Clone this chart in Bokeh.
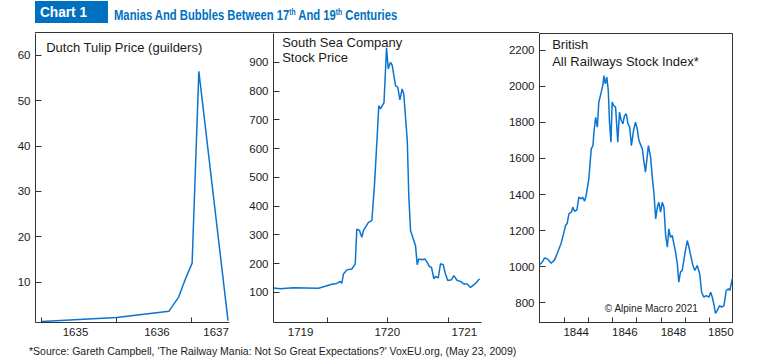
from bokeh.plotting import figure
from bokeh.models import FixedTicker, Label, Range1d, Div
from bokeh.layouts import column, row
from bokeh.embed import file_html
from bokeh.resources import INLINE

# ---------------- data ----------------
tulip_year = [1635.0, 1636.0, 1636.70, 1636.83, 1636.92, 1637.01, 1637.10, 1637.49]
tulip_price = [1.3, 2.2, 3.6, 6.7, 10.7, 14.2, 56.5, 1.5]

ssea_year = [1719.557, 1719.613, 1719.722, 1719.928, 1719.997, 1720.038, 1720.079, 1720.107,
             1720.120, 1720.134, 1720.162, 1720.203, 1720.231, 1720.244, 1720.266, 1720.285,
             1720.299, 1720.340, 1720.368, 1720.390, 1720.410, 1720.425, 1720.439, 1720.468,
             1720.489, 1720.503, 1720.522, 1720.536, 1720.563, 1720.582, 1720.599, 1720.618,
             1720.631, 1720.660, 1720.673, 1720.687, 1720.728, 1720.742, 1720.755, 1720.783,
             1720.805, 1720.824, 1720.843, 1720.860, 1720.879, 1720.893, 1720.915, 1720.934,
             1720.956, 1720.975, 1720.994, 1721.025, 1721.044, 1721.072, 1721.099, 1721.126,
             1721.154, 1721.181, 1721.223, 1721.256]
ssea_price = [115, 112, 116, 114, 123, 128, 131, 138,
              131, 164, 178, 181, 199, 320, 315, 291,
              315, 343, 349, 477, 628, 749, 738, 760,
              950, 877, 900, 889, 819, 813, 769, 807,
              790, 628, 430, 315, 262, 196, 216, 213,
              216, 204, 189, 187, 147, 155, 150, 199,
              196, 164, 141, 144, 158, 141, 138, 129,
              129, 117, 131, 147]

rail_year = [1843.00, 1843.10, 1843.20, 1843.33, 1843.47, 1843.61, 1843.74, 1843.88, 1843.98, 1844.06,
             1844.13, 1844.20, 1844.30, 1844.36, 1844.43, 1844.53, 1844.61, 1844.71, 1844.77, 1844.84,
             1844.91, 1845.02, 1845.08, 1845.12, 1845.19, 1845.23, 1845.30, 1845.37, 1845.43, 1845.53,
             1845.60, 1845.64, 1845.70, 1845.76, 1845.82, 1845.87, 1845.93, 1845.98, 1846.04, 1846.12,
             1846.21, 1846.28, 1846.35, 1846.42, 1846.49, 1846.56, 1846.63, 1846.70, 1846.77, 1846.86,
             1846.94, 1847.01, 1847.08, 1847.22, 1847.28, 1847.35, 1847.47, 1847.56, 1847.63, 1847.70,
             1847.77, 1847.84, 1847.90, 1847.97, 1848.04, 1848.11, 1848.18, 1848.25, 1848.31, 1848.38,
             1848.45, 1848.52, 1848.59, 1848.66, 1848.72, 1848.79, 1848.86, 1848.97, 1849.07, 1849.14,
             1849.21, 1849.30, 1849.38, 1849.48, 1849.58, 1849.66, 1849.75, 1849.85, 1849.96, 1850.03,
             1850.10, 1850.16, 1850.23, 1850.30, 1850.40, 1850.48, 1850.58, 1850.67, 1850.76, 1850.82,
             1850.92]
rail_index = [1012, 1025, 1049, 1042, 1019, 1038, 1080, 1130, 1182, 1228,
              1241, 1293, 1302, 1330, 1307, 1315, 1385, 1376, 1385, 1363,
              1394, 1487, 1588, 1653, 1671, 1745, 1828, 1773, 1912, 1967,
              2009, 2059, 2013, 2050, 1976, 1801, 1690, 1912, 1893, 1884,
              1690, 1856, 1810, 1792, 1838, 1847, 1792, 1773, 1671, 1755,
              1801, 1764, 1699, 1653, 1588, 1524, 1671, 1607, 1496, 1404,
              1265, 1330, 1357, 1302, 1357, 1330, 1173, 1108, 1210, 1163,
              1173, 1127, 1080, 1016, 914, 970, 979, 1071, 1145, 1108,
              1062, 1007, 979, 1007, 961, 859, 831, 840, 831, 859,
              831, 794, 742, 757, 785, 776, 785, 868, 878, 868,
              933]

# tick marks and labels
tulip_tick_marks = [1635, 1636, 1637]
tulip_label_pos = [1635.45, 1636.54, 1637.33]
tulip_label_txt = ["1635", "1636", "1637"]
tulip_yticks = [10, 20, 30, 40, 50, 60]

ssea_tick_marks = [1720.0, 1720.5, 1721.0]
ssea_label_pos = [1719.78, 1720.495, 1721.13]
ssea_label_txt = ["1719", "1720", "1721"]
ssea_yticks = [100, 200, 300, 400, 500, 600, 700, 800, 900]

rail_tick_marks = [1844, 1845, 1846, 1847, 1848, 1849, 1850]
rail_label_pos = [1844.5, 1846.5, 1848.5, 1850.45]
rail_label_txt = ["1844", "1846", "1848", "1850"]
rail_yticks = [800, 1000, 1200, 1400, 1600, 1800, 2000, 2200]

BLUE = "#0070C0"
LINE = "#0b74d1"
AX = "#333333"
TXT = "#1a1a1a"
FONT = "Liberation Sans"
FRAME_H = 289


def make_panel(width, bl, br, xr, yr, xs, ys, tick_marks, lpos, ltxt, yticks):
    p = figure(width=width, height=FRAME_H + 20, output_backend="svg", toolbar_location=None,
               x_range=Range1d(*xr), y_range=Range1d(*yr),
               min_border_left=bl, min_border_right=br, min_border_top=0, min_border_bottom=20)
    p.background_fill_color = None
    p.border_fill_color = None
    p.outline_line_color = None
    p.grid.visible = False
    p.line(xs, ys, line_color=LINE, line_width=1.5)

    xa = p.xaxis[0]
    xa.ticker = FixedTicker(ticks=lpos, minor_ticks=tick_marks)
    xa.major_label_overrides = {v: t for v, t in zip(lpos, ltxt)}
    xa.major_tick_line_color = None
    xa.major_tick_in = 0
    xa.major_tick_out = 0
    xa.minor_tick_in = 5
    xa.minor_tick_out = 0
    xa.minor_tick_line_color = AX
    xa.axis_line_color = AX
    xa.major_label_standoff = 5

    ya = p.yaxis[0]
    ya.ticker = FixedTicker(ticks=yticks)
    ya.major_tick_in = 6
    ya.major_tick_out = 0
    ya.major_tick_line_color = AX
    ya.minor_tick_line_color = None
    ya.axis_line_color = AX
    ya.major_label_standoff = 5

    for a in (xa, ya):
        a.major_label_text_font = FONT
        a.major_label_text_font_size = "11.5px"
        a.major_label_text_color = TXT
    return p


def add_text(p, xr, yr, fw, dx, dy, text, size="13px"):
    x = xr[0] + dx * (xr[1] - xr[0]) / fw
    y = yr[1] - dy * (yr[1] - yr[0]) / FRAME_H
    p.add_layout(Label(x=x, y=y, text=text, text_font=FONT, text_font_size=size,
                       text_color=TXT, text_baseline="middle", text_align="left"))


# panel 1
xr1, yr1 = (1634.915, 1637.51), (1.1, 64.85)
p1 = make_panel(244, 35, 15, xr1, yr1, tulip_year, tulip_price,
                tulip_tick_marks, tulip_label_pos, tulip_label_txt, tulip_yticks)
add_text(p1, xr1, yr1, 194, 10.7, 14.3, "Dutch Tulip Price (guilders)")

# panel 2
xr2, yr2 = (1719.557, 1721.272), (-5, 1000)
p2 = make_panel(256, 29, 19, xr2, yr2, ssea_year, ssea_price,
                ssea_tick_marks, ssea_label_pos, ssea_label_txt, ssea_yticks)
add_text(p2, xr2, yr2, 208, 8.7, 8.7, "South Sea Company")
add_text(p2, xr2, yr2, 208, 8.7, 24.3, "Stock Price")

# panel 3
xr3, yr3 = (1842.99, 1850.93), (691, 2292)
p3 = make_panel(255, 39, 23, xr3, yr3, rail_year, rail_index,
                rail_tick_marks, rail_label_pos, rail_label_txt, rail_yticks)
p3.outline_line_color = AX
add_text(p3, xr3, yr3, 193, 12.7, 11.0, "British")
add_text(p3, xr3, yr3, 193, 12.7, 27.7, "All Railways Stock Index*")
add_text(p3, xr3, yr3, 193, 65.3, 274.7, "\u00a9 Alpine Macro 2021", size="10px")

title_html = (
    '<div style="position:relative;width:755px;height:33px;">'
    f'<div style="position:absolute;left:35px;top:1px;width:73px;height:22px;background:{BLUE};"></div>'
    f'<span style="position:absolute;left:40px;top:1px;line-height:22px;font-family:\'{FONT}\';'
    'font-weight:bold;font-size:15px;color:#ffffff;white-space:nowrap;'
    'transform:scaleX(0.91);transform-origin:left center;">Chart 1</span>'
    f'<span style="position:absolute;left:114px;top:1px;line-height:22px;font-family:\'{FONT}\';'
    f'font-weight:bold;font-size:15px;color:{BLUE};white-space:nowrap;'
    'transform:scaleX(0.75);transform-origin:left center;">'
    'Manias And Bubbles Between 17<span style="font-size:9px;vertical-align:5px;">th</span>'
    ' And 19<span style="font-size:9px;vertical-align:5px;">th</span> Centuries</span>'
    f'<div style="position:absolute;left:35px;top:32px;width:504px;height:0;border-top:1px solid {AX};"></div>'
    '</div>'
)
title_div = Div(text=title_html, width=755, height=33, margin=0)

foot_html = (
    '<div style="position:relative;width:755px;height:13px;">'
    f'<span style="position:absolute;left:29px;top:2px;font-family:\'{FONT}\';font-size:10.5px;'
    f'color:{TXT};white-space:nowrap;">'
    "*Source: Gareth Campbell, 'The Railway Mania: Not So Great Expectations?' VoxEU.org, (May 23, 2009)"
    '</span></div>'
)
foot_div = Div(text=foot_html, width=755, height=13, margin=0)

layout = column(title_div, row(p1, p2, p3, spacing=0), foot_div, spacing=0)

open("out.html", "w").write(file_html(layout, INLINE))
